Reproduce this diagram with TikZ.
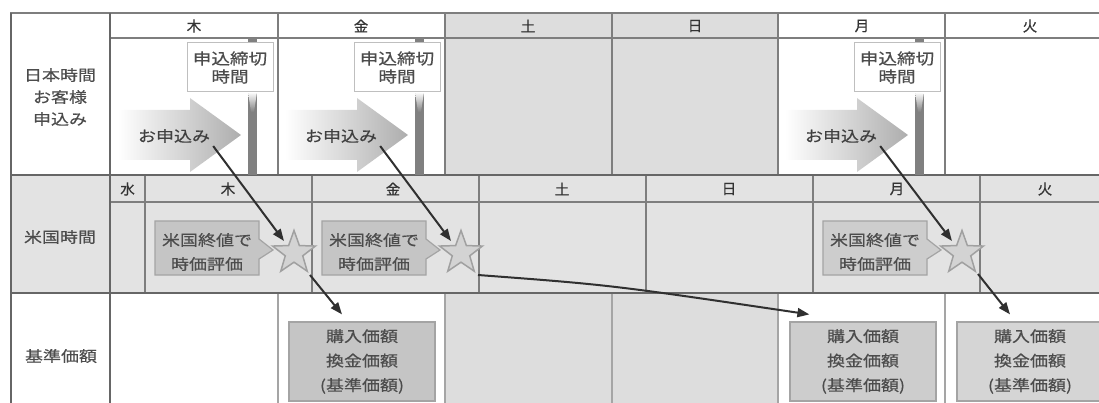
\documentclass[tikz,border=0pt]{standalone}
\usepackage{fontspec}
\setmainfont{Noto Sans CJK JP}
\newfontfamily\jpw[FakeStretch=1.2,FakeBold=0.5]{Noto Sans CJK JP}
\newfontfamily\jph[FakeBold=0.4]{Noto Sans CJK JP}
\usetikzlibrary{shapes.geometric,arrows.meta,calc}
\definecolor{gridc}{HTML}{7E7E7E}
\definecolor{gridd}{HTML}{666666}
\definecolor{wkend}{HTML}{DDDDDD}
\definecolor{usrow}{HTML}{E3E3E3}
\definecolor{txt}{HTML}{4C4C4C}
\definecolor{boxA}{HTML}{C5C5C5}
\definecolor{boxB}{HTML}{CDCDCD}
\definecolor{boxC}{HTML}{D5D5D5}
\definecolor{boxline}{HTML}{A4A4A4}
\definecolor{polec}{HTML}{808080}
\definecolor{arr}{HTML}{303030}
\definecolor{starf}{HTML}{D3D3D3}
\definecolor{stard}{HTML}{A0A0A0}
\tikzset{
  grid/.style={draw=gridc, line width=1.3pt},
  gridthick/.style={draw=gridd, line width=2pt},
  gridl/.style={draw=gridc!70, line width=1.2pt},
  dayhead/.style={font=\jph\fontsize{14.5}{16}\selectfont, text=black!80, inner sep=0pt},
  lbl/.style={font=\jpw\fontsize{15}{22}\selectfont, text=txt, align=center, inner sep=0pt},
  apptext/.style={font=\jpw\fontsize{15}{18}\selectfont, text=black!75, inner sep=0pt},
  sign/.style={draw=black!25, fill=white, line width=1pt, minimum width=86pt, minimum height=49pt,
    align=center, inner sep=0pt, font=\jpw\fontsize{15.5}{18}\selectfont, text=txt},
  evaltext/.style={font=\jpw\fontsize{15}{24}\selectfont, text=txt, align=center, inner sep=0pt},
  callout/.style={draw=boxline, line width=1.2pt},
  basebox/.style={draw=boxline, line width=1.2pt, minimum width=146pt, minimum height=79pt,
    align=center, inner sep=0pt, font=\jpw\fontsize{15}{24.5}\selectfont, text=txt},
  starnode/.style={star, star points=5, star point ratio=2.45, minimum size=45pt, inner sep=0pt,
    fill=starf, draw=stard, line width=1.5pt},
  conn/.style={draw=arr, line width=2pt, -{Triangle[length=12pt,width=9pt]}},
}
\begin{document}
\begin{tikzpicture}[x=1pt,y=-1pt]
\useasboundingbox (0,0) rectangle (1099,403);
\clip (0,0) rectangle (1099,403);
% backgrounds
\fill[wkend] (445,13) rectangle (778,175);
\fill[usrow] (10,175) rectangle (1099,293);
\fill[wkend] (445,293) rectangle (778,403);
% grid lines
\draw[grid] (10,13) -- (1099,13);
\draw[grid] (110,38) -- (1099,38);
\draw[grid] (110,202) -- (1099,202);
\foreach \x in {278,445,612,778,945} {
  \draw[grid] (\x,13) -- (\x,175);
  \draw[gridl] (\x,293) -- (\x,403);
}
\foreach \x in {145,312,479,646,813,980} \draw[grid] (\x,175) -- (\x,293);
\draw[gridthick] (10,175) -- (1099,175);
\draw[gridthick] (10,293) -- (1099,293);
\draw[gridthick] (11,13) -- (11,403);
\draw[gridthick] (110,13) -- (110,403);
% Japan day headers
\node[dayhead] (hJ1) at (194,26) {木};
\node[dayhead] (hJ2) at (361,26) {金};
\node[dayhead] (hJ3) at (528,26) {土};
\node[dayhead] (hJ4) at (695,26) {日};
\node[dayhead] (hJ5) at (862,26) {月};
\node[dayhead] (hJ6) at (1030,26) {火};
% US day headers
\node[dayhead] (hU0) at (127.5,189) {水};
\node[dayhead] (hU1) at (228,189) {木};
\node[dayhead] (hU2) at (393,189) {金};
\node[dayhead] (hU3) at (562,189) {土};
\node[dayhead] (hU4) at (729,189) {日};
\node[dayhead] (hU5) at (897,189) {月};
\node[dayhead] (hU6) at (1045,189) {火};
% row labels
\node[lbl] (lJP) at (60,97) {日本時間\\お客様\\申込み};
\node[lbl] (lUS) at (60,237) {米国時間};
\node[lbl] (lBase) at (61,356) {基準価額};
% Japan row: deadlines and application arrows
\foreach \dx/\n in {0/1,167/2,667/3} {
  \fill[polec] (248+\dx,38) rectangle (257+\dx,175);
  \shade[top color=white, bottom color=polec] (248+\dx,92) -- (257+\dx,92) -- (254+\dx,112) -- (251+\dx,112) -- cycle;
  \node[sign] (sign\n) at (230+\dx,67.5) {申込締切\\時間};
  \shade[left color=white, right color=black!32]
    (118+\dx,110) -- (190+\dx,110) -- (190+\dx,98) -- (241+\dx,135)
    -- (190+\dx,172) -- (190+\dx,160) -- (118+\dx,160) -- cycle;
  \node[apptext] (app\n) at (174+\dx,136) {お申込み};
}
% US row: valuation callouts and stars
\foreach \dx/\n/\c in {0/1/boxA,167/2/boxA,668/3/boxB} {
  \filldraw[callout, fill=\c] (155+\dx,221) -- (259+\dx,221) -- (259+\dx,239) -- (273+\dx,250)
    -- (259+\dx,259) -- (259+\dx,275) -- (155+\dx,275) -- cycle;
  \node[evaltext] (eval\n) at (207+\dx,252) {米国終値で\\時価評価};
  \node[starnode] (star\n) at (294+\dx,253) {};
}
% base price boxes
\node[basebox, fill=boxA] (base1) at (362,361.5) {購入価額\\換金価額\\(基準価額)};
\node[basebox, fill=boxB] (base2) at (863,361.5) {購入価額\\換金価額\\(基準価額)};
\node[basebox, fill=boxC] (base3) at (1030,361.5) {購入価額\\換金価額\\(基準価額)};
% connectors
\draw[conn] ($(app1.south east)+(3,3)$) -- ($(star1)+(-10,-12)$);
\draw[conn] ($(app2.south east)+(3,3)$) -- ($(star2)+(-10,-12)$);
\draw[conn] ($(app3.south east)+(3,3)$) -- ($(star3)+(-10,-12)$);
\draw[conn] ($(star1)+(16,22)$) -- ($(base1.north)+(-20,-7)$);
\draw[conn] ($(star2)+(17,22)$) .. controls ($(star2)+(150,32)$) .. ($(base2.north west)+(20,-7)$);
\draw[conn] ($(star3)+(16,21)$) -- ($(base3.north)+(-20,-7)$);
\end{tikzpicture}
\end{document}
